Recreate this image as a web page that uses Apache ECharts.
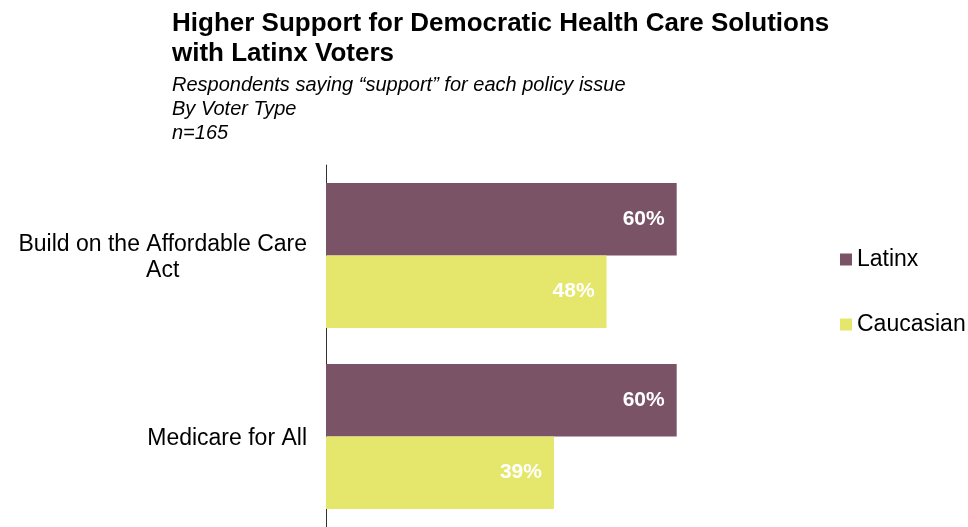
<!DOCTYPE html>
<html>
<head>
<meta charset="utf-8">
<script src="https://cdn.jsdelivr.net/npm/echarts@6/dist/echarts.min.js"></script>
<style>html,body{margin:0;padding:0;background:#fff;}#c{width:968px;height:527px;}</style>
</head>
<body>
<div id="c"></div>
<script>
var titleText = 'Higher Support for Democratic Health Care Solutions\nwith Latinx Voters';
var subText = 'Respondents saying \u201csupport\u201d for each policy issue\nBy Voter Type\nn=165';
var categories = ['Build on the Affordable Care\nAct', 'Medicare for All'];
var seriesNames = ['Latinx', 'Caucasian'];
var latinx = [60, 60];
var caucasian = [48, 39];
var colors = ['#7a5367', '#e5e76d'];

var chart = echarts.init(document.getElementById('c'));
var font = '"Liberation Sans", Arial, sans-serif';
chart.setOption({
  animation: false,
  backgroundColor: '#ffffff',
  title: [
    { text: titleText, left: 167, top: 4,
      textStyle: { fontFamily: font, fontSize: 26, fontWeight: 'bold', color: '#000', lineHeight: 30 } },
    { text: subText, left: 167, top: 68,
      textStyle: { fontFamily: font, fontSize: 20, fontWeight: 'normal', fontStyle: 'italic', color: '#000', lineHeight: 24 } }
  ],
  legend: {
    orient: 'vertical', left: 835, top: 242,
    itemWidth: 12, itemHeight: 12, itemGap: 40, itemTextGap: 5,
    icon: 'rect',
    data: seriesNames,
    textStyle: { fontFamily: font, fontSize: 23, color: '#000', lineHeight: 25 }
  },
  grid: { left: 326, top: 165, width: 584.5, height: 368, containLabel: false },
  xAxis: { type: 'value', min: 0, max: 100, show: false },
  yAxis: {
    type: 'category', inverse: true, data: categories,
    axisLine: { show: true, lineStyle: { color: '#333', width: 1 } },
    axisTick: { show: false },
    axisLabel: {
      margin: 19, align: 'right',
      fontFamily: font, fontSize: 23, color: '#000', lineHeight: 26,
      formatter: function (v) {
        return v.split('\n').map(function (s) { return '{c|' + s + '}'; }).join('\n');
      },
      rich: { c: { align: 'center', fontFamily: font, fontSize: 23, color: '#000', lineHeight: 26, padding: [4, 0, 0, 0] } }
    }
  },
  series: [
    { name: seriesNames[0], type: 'bar', data: latinx, barGap: '0%', barCategoryGap: '20%',
      itemStyle: { color: colors[0] },
      label: { show: true, position: 'insideRight', distance: 12, formatter: '{c}%',
        fontFamily: font, fontSize: 21, fontWeight: 'bold', color: '#fff' } },
    { name: seriesNames[1], type: 'bar', data: caucasian, barGap: '0%', barCategoryGap: '20%',
      itemStyle: { color: colors[1] },
      label: { show: true, position: 'insideRight', distance: 12, formatter: '{c}%',
        fontFamily: font, fontSize: 21, fontWeight: 'bold', color: '#fff' } }
  ]
});
</script>
</body>
</html>
